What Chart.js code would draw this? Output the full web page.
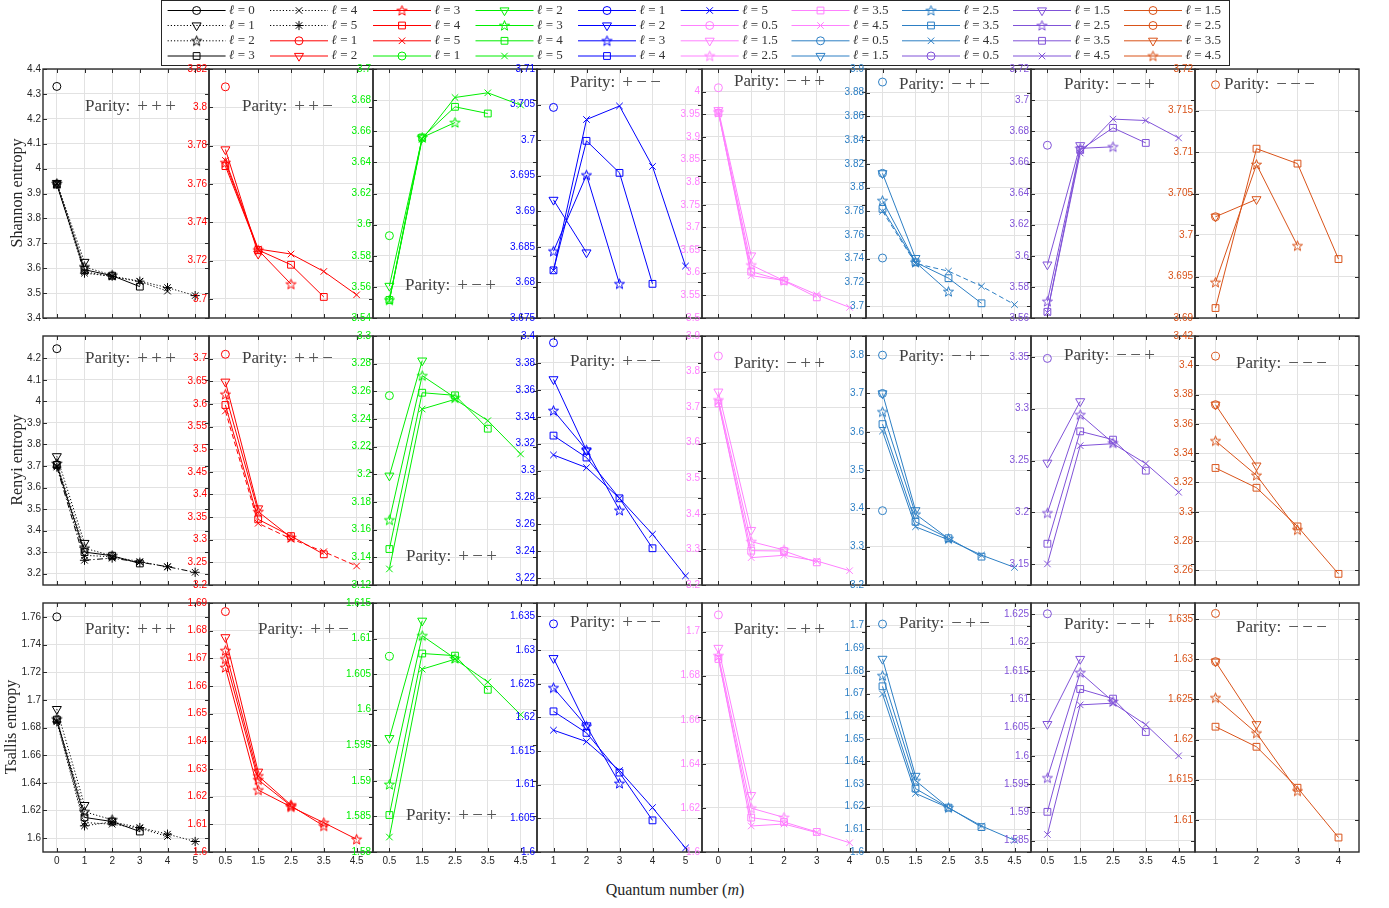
<!DOCTYPE html>
<html><head><meta charset="utf-8"><title>Entropies vs quantum number</title>
<script src="https://cdn.jsdelivr.net/npm/chart.js@4.4.1/dist/chart.umd.min.js"></script>
<style>
html,body{margin:0;padding:0;background:#fff;}
#wrap{position:relative;width:1389px;height:908px;overflow:hidden;background:#fff;}
canvas.pc{position:absolute;}
.ttl{position:absolute;font-family:"Liberation Serif","DejaVu Serif",serif;font-size:16px;color:#262626;text-align:center;white-space:nowrap;height:20px;line-height:20px;}
</style></head><body><div id="wrap">
<canvas id="leg" class="pc" width="1389" height="70" style="left:0;top:0"></canvas>
<div class="ttl" style="left:-108px;top:183px;width:250px;transform:rotate(-90deg)">Shannon entropy</div>
<div class="ttl" style="left:-108px;top:450px;width:250px;transform:rotate(-90deg)">Renyi entropy</div>
<div class="ttl" style="left:-114px;top:717px;width:250px;transform:rotate(-90deg)">Tsallis entropy</div>
<div class="ttl" style="left:525px;top:880px;width:300px;">Quantum number (<i>m</i>)</div>
</div>
<script>
// ---------------- DATA ----------------
// quantum numbers (x categories) for each parity column
const M_PPP = [0, 1, 2, 3, 4, 5];
const M_PPM = [0.5, 1.5, 2.5, 3.5, 4.5];
const M_PMP = [0.5, 1.5, 2.5, 3.5, 4.5];
const M_PMM = [1, 2, 3, 4, 5];
const M_MPP = [0, 1, 2, 3, 4];
const M_MPM = [0.5, 1.5, 2.5, 3.5, 4.5];
const M_MMP = [0.5, 1.5, 2.5, 3.5, 4.5];
const M_MMM = [1, 2, 3, 4];

// Shannon entropy (each inner list = one l value, starting at the first m)
const shannonPPP = [[4.33], [3.942, 3.625], [3.940, 3.605, 3.572], [3.936, 3.594, 3.570, 3.526], [3.941, 3.586, 3.566, 3.546, 3.508], [3.938, 3.580, 3.568, 3.548, 3.522, 3.490]];
const shannonPPM = [[3.8107], [3.778, 3.7235], [3.7711, 3.7255, 3.7077], [3.7693, 3.7255, 3.7178, 3.701], [3.7723, 3.726, 3.7234, 3.7143, 3.7021]];
const shannonPMP = [[3.5929], [3.5606, 3.656], [3.5516, 3.656, 3.6656], [3.5516, 3.656, 3.6757, 3.6714], [3.551, 3.655, 3.6817, 3.6847, 3.6768]];
const shannonPMM = [[3.7046], [3.6916, 3.6842], [3.6844, 3.6951, 3.6798], [3.6817, 3.6999, 3.6954, 3.6798], [3.6817, 3.7029, 3.7048, 3.6963, 3.6823]];
const shannonMPP = [[4.0086], [3.959, 3.638], [3.955, 3.617, 3.5825], [3.953, 3.6024, 3.582, 3.5456], [3.955, 3.5936, 3.583, 3.5515, 3.5234]];
const shannonMPM = [[3.889], [3.812, 3.7405], [3.789, 3.737, 3.7123], [3.782, 3.737, 3.7236, 3.7024], [3.780, 3.736, 3.7295, 3.7168, 3.7013]];
const shannonMMP = [[3.671], [3.5943, 3.671], [3.5707, 3.669, 3.670], [3.564, 3.668, 3.6822, 3.6725], [3.5635, 3.666, 3.6878, 3.6869, 3.6757]];
const shannonMMM = [[3.7181], [3.7022, 3.7043], [3.6943, 3.7085, 3.6987], [3.6912, 3.7104, 3.7086, 3.6971]];
const shannonExtraMPM = [3.812, 3.7406];
const shannonExtraMMM = [3.7022];

// Renyi entropy
const renyiPPP = [[4.245], [3.745, 3.342], [3.712, 3.318, 3.283], [3.705, 3.300, 3.283, 3.247], [3.700, 3.285, 3.278, 3.256, 3.231], [3.695, 3.262, 3.272, 3.253, 3.232, 3.206]];
const renyiPPM = [[3.7096], [3.649, 3.369], [3.6212, 3.362, 3.305], [3.5976, 3.345, 3.308, 3.2678], [3.5844, 3.3363, 3.302, 3.2736, 3.242]];
const renyiPMP = [[3.2569], [3.199, 3.2822], [3.167, 3.2713, 3.2554], [3.146, 3.259, 3.2571, 3.233], [3.1316, 3.2472, 3.2542, 3.2388, 3.2147]];
const renyiPMM = [[3.395], [3.3678, 3.3149], [3.3446, 3.3153, 3.2705], [3.326, 3.3097, 3.2794, 3.2423], [3.3116, 3.3022, 3.2794, 3.2527, 3.2218]];
const renyiMPP = [[3.8438], [3.7435, 3.3545], [3.72, 3.322, 3.2985], [3.7107, 3.2965, 3.2955, 3.2637], [3.715, 3.277, 3.2835, 3.2675, 3.2403]];
const renyiMPM = [[3.80], [3.70, 3.395], [3.652, 3.385, 3.321], [3.62, 3.365, 3.322, 3.274], [3.602, 3.352, 3.318, 3.278, 3.246]];
const renyiMMP = [[3.3484], [3.2478, 3.307], [3.1994, 3.2942, 3.2669], [3.1698, 3.2781, 3.2701, 3.2402], [3.1503, 3.2643, 3.2662, 3.2470, 3.2194]];
const renyiMMM = [[3.4062], [3.3731, 3.3315], [3.3484, 3.3249, 3.2877], [3.3299, 3.3164, 3.29, 3.2576]];
const renyiExtraMPM = [3.70, 3.394];
const renyiExtraMMM = [3.3731];

// Tsallis entropy
const tsallisPPP = [[1.76], [1.6933, 1.6239], [1.6861, 1.6191, 1.6133], [1.6857, 1.615, 1.612, 1.6048], [1.685, 1.6113, 1.6101, 1.6072, 1.6012], [1.6841, 1.6089, 1.6118, 1.6077, 1.6029, 1.5976]];
const tsallisPPM = [[1.6869], [1.6776, 1.629], [1.6728, 1.6275, 1.617], [1.6698, 1.6261, 1.6167, 1.6094], [1.6667, 1.6224, 1.6163, 1.6106, 1.6046]];
const tsallisPMP = [[1.6075], [1.596, 1.6125], [1.5895, 1.6104, 1.6072], [1.5852, 1.6079, 1.6076, 1.6028], [1.5821, 1.6057, 1.6071, 1.6039, 1.5993]];
const tsallisPMM = [[1.6339], [1.6288, 1.6188], [1.6244, 1.6187, 1.6102], [1.6209, 1.6177, 1.6118, 1.6047], [1.6181, 1.6164, 1.6121, 1.6066, 1.6006]];
const tsallisMPP = [[1.7076], [1.6926, 1.6258], [1.6891, 1.6199, 1.6157], [1.6876, 1.6156, 1.6136, 1.6091], [1.6883, 1.6118, 1.6127, 1.6088, 1.6042]];
const tsallisMPM = [[1.7007], [1.6853, 1.6336], [1.6779, 1.6315, 1.6196], [1.6732, 1.628, 1.6196, 1.611], [1.6698, 1.6259, 1.6195, 1.6115, 1.6052]];
const tsallisMMP = [[1.6251], [1.6056, 1.6171], [1.5961, 1.6147, 1.6096], [1.5901, 1.6118, 1.6101, 1.6042], [1.5861, 1.609, 1.6093, 1.6055, 1.6]];
const tsallisMMM = [[1.6357], [1.6297, 1.6219], [1.6252, 1.6208, 1.6136], [1.6216, 1.6191, 1.614, 1.6078]];
const tsallisExtraMMM = [1.6297];

// y-axis ranges and tick labels
const shannonYMin = [3.4, 3.69, 3.54, 3.675, 3.5, 3.69, 3.56, 3.69];
const shannonYMax = [4.4, 3.82, 3.70, 3.71, 4.05, 3.9, 3.72, 3.72];
const shannonTicks = [
  [3.4, 3.5, 3.6, 3.7, 3.8, 3.9, 4, 4.1, 4.2, 4.3, 4.4],
  [3.7, 3.72, 3.74, 3.76, 3.78, 3.8, 3.82],
  [3.54, 3.56, 3.58, 3.6, 3.62, 3.64, 3.66, 3.68, 3.7],
  [3.675, 3.68, 3.685, 3.69, 3.695, 3.7, 3.705, 3.71],
  [3.5, 3.55, 3.6, 3.65, 3.7, 3.75, 3.8, 3.85, 3.9, 3.95, 4],
  [3.7, 3.72, 3.74, 3.76, 3.78, 3.8, 3.82, 3.84, 3.86, 3.88, 3.9],
  [3.56, 3.58, 3.6, 3.62, 3.64, 3.66, 3.68, 3.7, 3.72],
  [3.69, 3.695, 3.7, 3.705, 3.71, 3.715, 3.72]];
const renyiYMin = [3.147, 3.2, 3.12, 3.215, 3.2, 3.2, 3.13, 3.25];
const renyiYMax = [4.304, 3.75, 3.30, 3.40, 3.9, 3.85, 3.37, 3.42];
const renyiTicks = [
  [3.2, 3.3, 3.4, 3.5, 3.6, 3.7, 3.8, 3.9, 4, 4.1, 4.2],
  [3.2, 3.25, 3.3, 3.35, 3.4, 3.45, 3.5, 3.55, 3.6, 3.65, 3.7],
  [3.12, 3.14, 3.16, 3.18, 3.2, 3.22, 3.24, 3.26, 3.28, 3.3],
  [3.22, 3.24, 3.26, 3.28, 3.3, 3.32, 3.34, 3.36, 3.38, 3.4],
  [3.2, 3.3, 3.4, 3.5, 3.6, 3.7, 3.8, 3.9],
  [3.2, 3.3, 3.4, 3.5, 3.6, 3.7, 3.8],
  [3.15, 3.2, 3.25, 3.3, 3.35],
  [3.26, 3.28, 3.3, 3.32, 3.34, 3.36, 3.38, 3.4, 3.42]];
const tsallisYMin = [1.59, 1.6, 1.58, 1.6, 1.6, 1.6, 1.583, 1.606];
const tsallisYMax = [1.77, 1.69, 1.615, 1.637, 1.713, 1.71, 1.627, 1.637];
const tsallisTicks = [
  [1.6, 1.62, 1.64, 1.66, 1.68, 1.7, 1.72, 1.74, 1.76],
  [1.6, 1.61, 1.62, 1.63, 1.64, 1.65, 1.66, 1.67, 1.68, 1.69],
  [1.58, 1.585, 1.59, 1.595, 1.6, 1.605, 1.61, 1.615],
  [1.6, 1.605, 1.61, 1.615, 1.62, 1.625, 1.63, 1.635],
  [1.6, 1.62, 1.64, 1.66, 1.68, 1.7],
  [1.6, 1.61, 1.62, 1.63, 1.64, 1.65, 1.66, 1.67, 1.68, 1.69, 1.7],
  [1.585, 1.59, 1.595, 1.6, 1.605, 1.61, 1.615, 1.62, 1.625],
  [1.61, 1.615, 1.62, 1.625, 1.63, 1.635]];

const paritySigns = [['+','+','+'], ['+','+','\u2212'], ['+','\u2212','+'], ['+','\u2212','\u2212'], ['\u2212','+','+'], ['\u2212','+','\u2212'], ['\u2212','\u2212','+'], ['\u2212','\u2212','\u2212']];
const legendLabels = ['0','1','2','3','4','5','1','2','3','4','5','1','2','3','4','5','1','2','3','4','5','0.5','1.5','2.5','3.5','4.5','0.5','1.5','2.5','3.5','4.5','0.5','1.5','2.5','3.5','4.5','1.5','2.5','3.5','4.5'];

// ---------------- STYLE / LAYOUT ----------------
const C = {k:'#000000', r:'#ff0000', g:'#00ee00', b:'#0000ff', p:'#ff80ff', s:'#2d7fc4', v:'#8052d8', o:'#d95319'};
const COLS = [
  {m:M_PPP, xr:[-0.5,5.5], c:C.k, tc:'#262626', mk:['circle','tri','star5','rect','x','ast'], ds:['','dot','dot','','dot','dot']},
  {m:M_PPM, xr:[0,5], c:C.r, mk:['circle','tri','star5','rect','x']},
  {m:M_PMP, xr:[0,5], c:C.g, mk:['circle','tri','star5','rect','x']},
  {m:M_PMM, xr:[0.5,5.5], c:C.b, mk:['circle','tri','star5','rect','x']},
  {m:M_MPP, xr:[-0.5,4.5], c:C.p, mk:['circle','tri','star5','rect','x']},
  {m:M_MPM, xr:[0,5], c:C.s, mk:['circle','tri','star5','rect','x']},
  {m:M_MMP, xr:[0,5], c:C.v, mk:['circle','tri','star5','rect','x']},
  {m:M_MMM, xr:[0.5,4.5], c:C.o, mk:['circle','tri','star5','rect']}
];
const ROWS = [
  {data:[shannonPPP,shannonPPM,shannonPMP,shannonPMM,shannonMPP,shannonMPM,shannonMMP,shannonMMM],
   extra:[[],[],[],[],[],shannonExtraMPM,[],shannonExtraMMM], ymin:shannonYMin, ymax:shannonYMax, ticks:shannonTicks,
   lab:[[42,38],[33,38],[32,217],[33,14],[32,13],[33,16],[33,16],[29,16]]},
  {data:[renyiPPP,renyiPPM,renyiPMP,renyiPMM,renyiMPP,renyiMPM,renyiMMP,renyiMMM],
   extra:[[],[],[],[],[],renyiExtraMPM,[],renyiExtraMMM], ymin:renyiYMin, ymax:renyiYMax, ticks:renyiTicks,
   lab:[[42,23],[33,23],[33,221],[33,26],[32,28],[33,21],[33,20],[41,28]]},
  {data:[tsallisPPP,tsallisPPM,tsallisPMP,tsallisPMM,tsallisMPP,tsallisMPM,tsallisMMP,tsallisMMM],
   extra:[[],[],[],[],[],[],[],tsallisExtraMMM], ymin:tsallisYMin, ymax:tsallisYMax, ticks:tsallisTicks,
   lab:[[42,27],[49,27],[33,213],[33,20],[32,27],[33,21],[33,22],[41,25]]}
];
const MARKER_OVERRIDE = {'2-1':['circle','tri','star5','star5','star5']};
const DASH_OVERRIDE = {'0-5':{4:'dash'}, '1-0':{5:'dashdot'}, '1-1':{4:'dash'}};
const DASHES = {'':[], dot:[1.2,2], dash:[5,3], dashdot:[6,2.5,1.2,2.5]};

const EDGES = [43,209,373,537,702,866,1031,1195,1359];
const ROWPOS = [[69,318],[336,585],[603,852]];
const AX = 43, PAD = 8, XH = 20;
const TICKFONT = '"Liberation Sans", Arial, sans-serif';
const SERIF = '"Liberation Serif","DejaVu Serif",serif';

// pentagram marker images
const starCache = {};
function starImg(color){
  if (starCache[color]) return starCache[color];
  const s = 13, cv = document.createElement('canvas'); cv.width = s; cv.height = s;
  const x = cv.getContext('2d'); x.strokeStyle = color; x.lineWidth = 1;
  x.beginPath();
  const R = 5.3, r = 2.2, cx = s/2, cy = s/2 + 0.4;
  for (let i = 0; i < 10; i++) {
    const a = -Math.PI/2 + i*Math.PI/5, rad = i % 2 ? r : R;
    const px = cx + rad*Math.cos(a), py = cy + rad*Math.sin(a);
    if (i) x.lineTo(px, py); else x.moveTo(px, py);
  }
  x.closePath(); x.stroke();
  starCache[color] = cv; return cv;
}
function markerProps(type, color){
  switch(type){
    case 'circle': return {pointStyle:'circle', pointRadius:4, pointRotation:0};
    case 'tri': return {pointStyle:'triangle', pointRadius:5.2, pointRotation:180};
    case 'rect': return {pointStyle:'rect', pointRadius:4.8, pointRotation:0};
    case 'x': return {pointStyle:'crossRot', pointRadius:4.6, pointRotation:0};
    case 'ast': return {pointStyle:'star', pointRadius:4.6, pointRotation:0};
    case 'star5': return {pointStyle:starImg(color), pointRadius:5, pointRotation:0};
  }
}
function fmt(v){ return String(parseFloat(Number(v).toFixed(4))); }

const decoPlugin = {
  id: 'panelDeco',
  afterDatasetsDraw(chart, args, o){
    const {ctx, chartArea:a, scales:{x, y}} = chart;
    ctx.save();
    ctx.textBaseline = 'middle'; ctx.textAlign = 'left';
    let tx = a.left + o.dx; const ty = a.top + o.dy;
    ctx.font = '17px ' + SERIF; ctx.fillStyle = '#404040';
    ctx.fillText('Parity:', tx, ty);
    tx += ctx.measureText('Parity:').width + 7;
    ctx.font = '19px ' + SERIF; ctx.fillStyle = '#555555';
    o.signs.forEach(sg => { ctx.fillText(sg, tx, ty + 0.5); tx += 14; });
    ctx.strokeStyle = '#2b2b2b'; ctx.lineWidth = 1;
    ctx.beginPath();
    y.ticks.forEach(t => { const p = Math.round(y.getPixelForValue(t.value)) + 0.5;
      ctx.moveTo(a.left, p); ctx.lineTo(a.left + 4, p); ctx.moveTo(a.right - 4, p); ctx.lineTo(a.right, p); });
    x.ticks.forEach(t => { const p = Math.round(x.getPixelForValue(t.value)) + 0.5;
      ctx.moveTo(p, a.bottom); ctx.lineTo(p, a.bottom - 4); ctx.moveTo(p, a.top); ctx.lineTo(p, a.top + 4); });
    ctx.stroke();
    ctx.lineWidth = 1.4;
    ctx.strokeRect(a.left, a.top, a.right - a.left, a.bottom - a.top);
    ctx.restore();
  }
};

const wrap = document.getElementById('wrap');
ROWS.forEach((row, ri) => {
  COLS.forEach((col, ci) => {
    const left = EDGES[ci], w = EDGES[ci+1] - left;
    const [top, bottom] = ROWPOS[ri], h = bottom - top;
    const isBottom = ri === 2;
    const W = AX + w + PAD, H = PAD + h + (isBottom ? XH : 0) + PAD;
    const cv = document.createElement('canvas');
    cv.className = 'pc'; cv.width = W; cv.height = H;
    cv.style.left = (left - AX) + 'px'; cv.style.top = (top - PAD) + 'px';
    wrap.appendChild(cv);
    const key = ri + '-' + ci;
    const mk = MARKER_OVERRIDE[key] || col.mk;
    const dOv = DASH_OVERRIDE[key] || {};
    const datasets = [];
    row.data[ci].forEach((vals, si) => {
      const ds = dOv[si] !== undefined ? dOv[si] : (col.ds ? col.ds[si] : '');
      datasets.push(Object.assign({
        data: vals.map((v, i) => ({x: col.m[i], y: v})),
        borderColor: col.c, backgroundColor: 'rgba(0,0,0,0)', borderWidth: 1,
        borderDash: DASHES[ds], showLine: vals.length > 1, tension: 0,
        pointBorderColor: col.c, pointBackgroundColor: 'rgba(0,0,0,0)', pointBorderWidth: 1
      }, markerProps(mk[si], col.c)));
    });
    row.extra[ci].forEach(v => {
      datasets.push(Object.assign({
        data: [{x: col.m[0], y: v}], borderColor: col.c, backgroundColor: 'rgba(0,0,0,0)',
        showLine: false, pointBorderColor: col.c, pointBackgroundColor: 'rgba(0,0,0,0)', pointBorderWidth: 1
      }, markerProps('circle', col.c)));
    });
    const yt = row.ticks[ci];
    new Chart(cv, {
      type: 'line',
      data: {datasets},
      plugins: [decoPlugin],
      options: {
        responsive: false, animation: false, devicePixelRatio: 1,
        layout: {padding: {left: 0, top: PAD, right: PAD, bottom: PAD}},
        plugins: {legend: {display: false}, tooltip: {enabled: false},
          panelDeco: {signs: paritySigns[ci], dx: row.lab[ci][0], dy: row.lab[ci][1]}},
        scales: {
          x: {type: 'linear', min: col.xr[0], max: col.xr[1],
            afterBuildTicks: s => { s.ticks = col.m.map(v => ({value: v})); },
            afterFit: s => { s.height = isBottom ? XH : 0; s.paddingLeft = 0; s.paddingRight = 0; },
            ticks: {display: isBottom, callback: v => fmt(v), color: '#262626', font: {size: 10, family: TICKFONT}, padding: 3, autoSkip: false, maxRotation: 0},
            grid: {color: '#e2e2e2', lineWidth: 1, drawTicks: false}, border: {display: false}},
          y: {type: 'linear', min: row.ymin[ci], max: row.ymax[ci],
            afterBuildTicks: s => { s.ticks = yt.map(v => ({value: v})); },
            afterFit: s => { s.width = AX; s.paddingTop = 0; s.paddingBottom = 0; },
            ticks: {callback: v => fmt(v), color: col.tc || col.c, font: {size: 10, family: TICKFONT}, padding: 2, autoSkip: false},
            grid: {color: '#e2e2e2', lineWidth: 1, drawTicks: false}, border: {display: false}}
        }
      }
    });
  });
});

// ---------------- LEGEND ----------------
(function(){
  const cv = document.getElementById('leg'), ctx = cv.getContext('2d');
  const spec = [
    ['k','circle',''],['k','tri','dot'],['k','star5','dot'],['k','rect',''],
    ['k','x','dot'],['k','ast','dot'],['r','circle',''],['r','tri',''],
    ['r','star5',''],['r','rect',''],['r','x',''],['g','circle',''],
    ['g','tri',''],['g','star5',''],['g','rect',''],['g','x',''],
    ['b','circle',''],['b','tri',''],['b','star5',''],['b','rect',''],
    ['b','x',''],['p','circle',''],['p','tri',''],['p','star5',''],
    ['p','rect',''],['p','x',''],['s','circle',''],['s','tri',''],
    ['s','star5',''],['s','rect',''],['s','x',''],['v','circle',''],
    ['v','tri',''],['v','star5',''],['v','rect',''],['v','x',''],
    ['o','circle',''],['o','circle',''],['o','tri',''],['o','star5','']];
  const colX = [167.6, 270, 373, 475.5, 578, 680.7, 791.5, 902, 1013, 1124];
  const rowY = [10.5, 25.5, 40.8, 56];
  ctx.strokeStyle = '#262626'; ctx.lineWidth = 1;
  ctx.strokeRect(161.5, 0.5, 1068, 65);
  function marker(type, x, y, color){
    ctx.save(); ctx.strokeStyle = color; ctx.lineWidth = 1; ctx.setLineDash([]);
    ctx.beginPath();
    if (type === 'circle') ctx.arc(x, y, 4, 0, Math.PI*2);
    else if (type === 'tri') { const r = 5.2; ctx.moveTo(x - r*0.866, y - r*0.5); ctx.lineTo(x + r*0.866, y - r*0.5); ctx.lineTo(x, y + r); ctx.closePath(); }
    else if (type === 'rect') { const s = 3.4; ctx.rect(x - s, y - s, 2*s, 2*s); }
    else if (type === 'x' || type === 'ast') { const d = 3.25; ctx.moveTo(x-d, y-d); ctx.lineTo(x+d, y+d); ctx.moveTo(x+d, y-d); ctx.lineTo(x-d, y+d);
      if (type === 'ast') { ctx.moveTo(x-4.6, y); ctx.lineTo(x+4.6, y); ctx.moveTo(x, y-4.6); ctx.lineTo(x, y+4.6); } }
    else if (type === 'star5') { const im = starImg(color); ctx.drawImage(im, x - im.width/2, y - im.height/2); }
    ctx.stroke(); ctx.restore();
  }
  spec.forEach((s, i) => {
    const c = Math.floor(i/4), r = i % 4;
    const x0 = colX[c], y = rowY[r], color = C[s[0]];
    ctx.save(); ctx.strokeStyle = color; ctx.lineWidth = 1; ctx.setLineDash(DASHES[s[2]]);
    ctx.beginPath(); ctx.moveTo(x0, y); ctx.lineTo(x0 + 58, y); ctx.stroke(); ctx.restore();
    marker(s[1], x0 + 29, y, color);
    ctx.fillStyle = '#333333'; ctx.textBaseline = 'middle'; ctx.textAlign = 'left';
    ctx.font = 'italic 13px ' + SERIF;
    ctx.fillText('\u2113', x0 + 61.5, y);
    const wl = ctx.measureText('\u2113').width;
    ctx.font = '13px ' + SERIF;
    ctx.fillText(' = ' + legendLabels[i], x0 + 61.5 + wl, y);
  });
})();
</script></body></html>
